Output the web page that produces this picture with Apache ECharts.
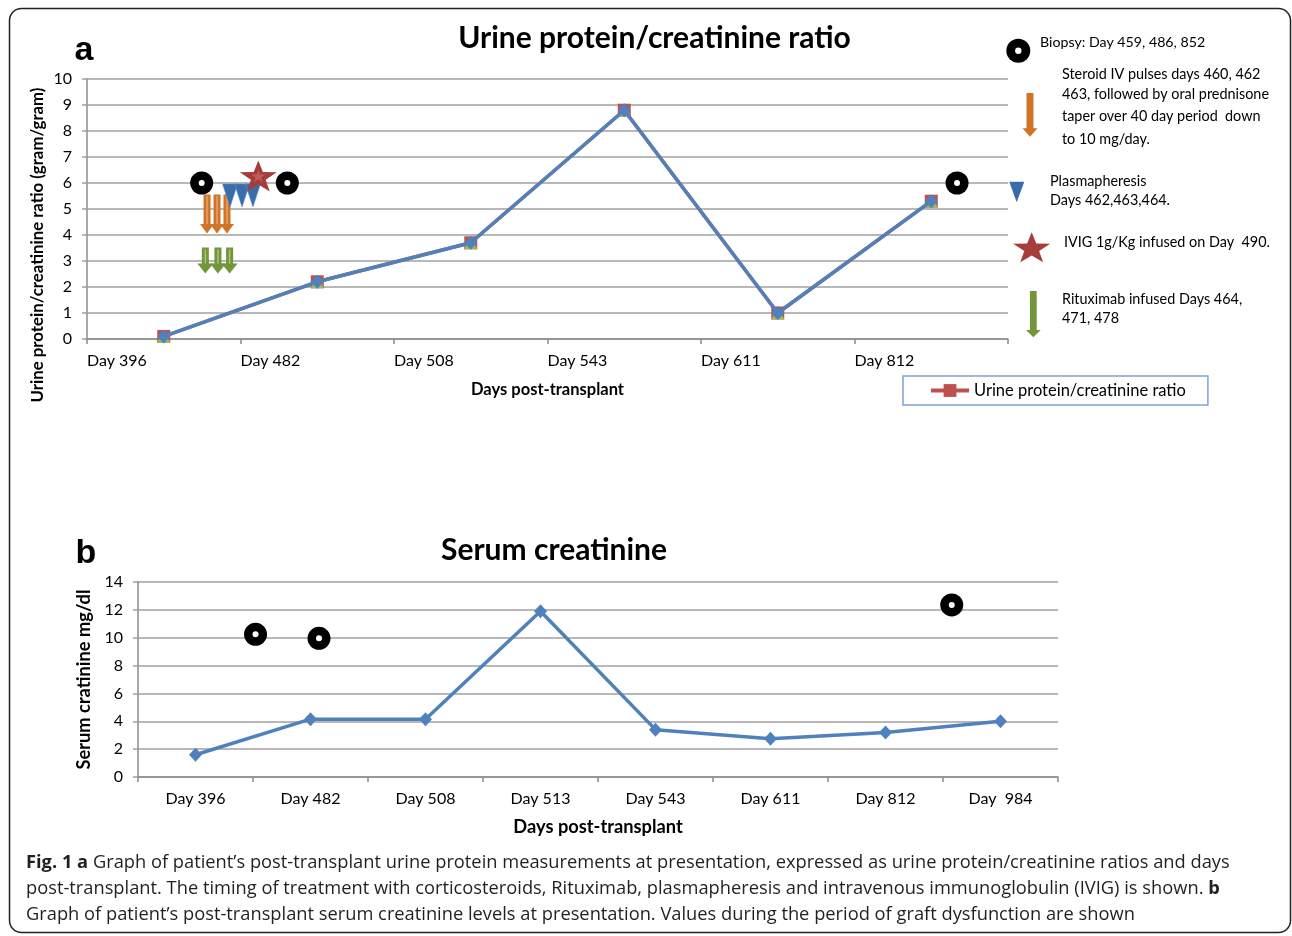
<!DOCTYPE html>
<html><head><meta charset="utf-8">
<script src="https://cdn.jsdelivr.net/npm/echarts@6/dist/echarts.min.js"></script>
<style>html,body{margin:0;padding:0;background:#fff}#c{width:1292px;height:936px}</style>
</head><body><div id="c"></div>
<script>
// ---------- DATA ----------
const daysA = ['Day 396', 'Day 482', 'Day 508', 'Day 543', 'Day 611', 'Day 812'];
const upcr = [0.1, 2.2, 3.7, 8.8, 1.0, 5.3];
const daysB = ['Day 396', 'Day 482', 'Day 508', 'Day 513', 'Day 543', 'Day 611', 'Day 812', 'Day  984'];
const creat = [1.6, 4.15, 4.15, 11.9, 3.4, 2.75, 3.2, 4.0];
// annotation marks: [x in category-band units from axis start, y in axis units]
const biopsyA = [[0.747, 6.0], [1.305, 6.0], [5.668, 6.0]];
const steroidA = [[0.782, 4.81], [0.847, 4.81], [0.912, 4.81]];
const rituxA = [[0.771, 3.02], [0.853, 3.02], [0.929, 3.02]];
const plasmaA = [[0.932, 5.52], [1.010, 5.52], [1.081, 5.52]];
const ivigA = [[1.116, 6.27]];
const biopsyB = [[1.022, 10.24], [1.574, 9.96], [7.076, 12.35]];
const seriesNameA = 'Urine protein/creatinine ratio';

// ---------- STYLE ----------
const FONT = 'Lato';
const BLUE = '#4f81bd', RED = '#c0504d', GREEN = '#9bbb59';
const GRID_C = '#a0a0a0', AXIS_C = '#8c8c8c';
const ARROW = 'path://M25,0 L75,0 L75,76 L100,76 L50,100 L0,76 L25,76 Z';
const ARROW_G = 'path://M28,0 L72,0 L72,62 L100,62 L50,100 L0,62 L28,62 Z';
const TRI = 'path://M0,0 L100,0 L50,100 Z';
const STAR = 'path://M50,0 L61.76,33.82 L97.55,34.55 L69.02,56.18 L79.39,90.45 L50,70 L20.61,90.45 L30.98,56.18 L2.45,34.55 L38.24,33.82 Z';
const LW = 3.5;

const chart = echarts.init(document.getElementById('c'), null, {renderer: 'canvas'});

const axisLbl = {fontFamily: FONT, fontSize: 16, color: '#000'};
const axisName = {fontFamily: FONT, fontWeight: 'bold', color: '#000'};

function starPoly(cx, cy, w, h) {
  const pts = [[50,0],[61.76,33.82],[97.55,34.55],[69.02,56.18],[79.39,90.45],[50,70],[20.61,90.45],[30.98,56.18],[2.45,34.55],[38.24,33.82]];
  return pts.map(p => [cx + (p[0] - 50) / 95.1 * w, cy + (p[1] - 45.2) / 90.45 * h]);
}
function sc(data, symbol, size, color, z, extra) {
  return Object.assign({type: 'scatter', xAxisIndex: 0, yAxisIndex: 0, data: data, symbol: symbol, symbolSize: size,
    itemStyle: {color: color, opacity: 1}, z: z, silent: true}, extra || {});
}

const option = {
  animation: false,
  backgroundColor: '#fff',
  grid: [
    {left: 87, right: 284, top: 79, bottom: 597},
    {left: 138, right: 234, top: 582, bottom: 159}
  ],
  xAxis: [
    { gridIndex: 0, type: 'value', min: 0, max: daysA.length, interval: 1,
      axisLine: {show: true, lineStyle: {color: AXIS_C, width: 1.5}},
      axisTick: {show: true, length: 5, lineStyle: {color: AXIS_C, width: 1.5}},
      splitLine: {show: false},
      axisLabel: Object.assign({margin: 14, align: 'left', formatter: v => daysA[v] || ''}, axisLbl),
      name: 'Days post-transplant', nameLocation: 'middle', nameGap: 42,
      nameTextStyle: Object.assign({fontSize: 16.5}, axisName) },
    { gridIndex: 1, type: 'category', data: daysB, boundaryGap: true,
      axisLine: {show: true, lineStyle: {color: AXIS_C, width: 1.5}},
      axisTick: {show: true, length: 5, lineStyle: {color: AXIS_C, width: 1.5}},
      axisLabel: Object.assign({margin: 14, interval: 0}, axisLbl),
      name: 'Days post-transplant', nameLocation: 'middle', nameGap: 41,
      nameTextStyle: Object.assign({fontSize: 18.3}, axisName) },
    { gridIndex: 1, type: 'value', min: 0, max: daysB.length, show: false }
  ],
  yAxis: [
    { gridIndex: 0, type: 'value', min: 0, max: 10, interval: 1,
      axisLine: {show: true, lineStyle: {color: AXIS_C, width: 1.5}},
      axisTick: {show: true, length: 5, lineStyle: {color: GRID_C, width: 1.5}},
      splitLine: {show: true, lineStyle: {color: GRID_C, width: 1.5}},
      axisLabel: Object.assign({margin: 15}, axisLbl) },
    { gridIndex: 1, type: 'value', min: 0, max: 14, interval: 2,
      axisLine: {show: true, lineStyle: {color: AXIS_C, width: 1.5}},
      axisTick: {show: true, length: 5, lineStyle: {color: GRID_C, width: 1.5}},
      splitLine: {show: true, lineStyle: {color: GRID_C, width: 1.5}},
      axisLabel: Object.assign({margin: 15}, axisLbl),
      name: 'Serum cratinine mg/dl', nameLocation: 'middle', nameGap: 41,
      nameTextStyle: Object.assign({fontSize: 18.3}, axisName) }
  ],
  legend: {
    data: [seriesNameA], left: 903, top: 376, itemWidth: 38, itemHeight: 16,
    padding: [6, 22, 6, 26], borderColor: '#7fa2d4', borderWidth: 1.5,
    lineStyle: {width: 4},
    textStyle: {fontFamily: FONT, fontSize: 16.5, color: '#000'}
  },
  series: [
    // chart a: three overlaid series of the same values
    { name: seriesNameA, type: 'line', xAxisIndex: 0, yAxisIndex: 0,
      data: upcr.map((v, i) => [i + 0.5, v]),
      symbol: 'rect', symbolSize: 13, showAllSymbol: true,
      itemStyle: {color: RED}, lineStyle: {color: RED, width: LW}, z: 2 },
    { name: 'upcr2', type: 'line', xAxisIndex: 0, yAxisIndex: 0,
      data: upcr.map((v, i) => [i + 0.5, v]),
      symbol: 'triangle', symbolSize: 13,
      itemStyle: {color: GREEN}, lineStyle: {width: 0}, z: 3 },
    { name: 'upcr3', type: 'line', xAxisIndex: 0, yAxisIndex: 0,
      data: upcr.map((v, i) => [i + 0.5, v]),
      symbol: 'diamond', symbolSize: [13, 14],
      itemStyle: {color: BLUE}, lineStyle: {color: BLUE, width: LW}, z: 4 },
    // chart a annotations
    sc(steroidA, ARROW, [14, 39], '#cf7429', 5),
    sc(steroidA, 'rect', [1.5, 28], '#eaa468', 5, {symbolOffset: [0, -4]}),
    sc(rituxA, ARROW_G, [16, 26], '#73953b', 5),
    sc(rituxA, 'rect', [1.5, 14], '#a9c66f', 5, {symbolOffset: [0, -4]}),
    sc(plasmaA, TRI, [15, 23], '#3a6cab', 5, {itemStyle: {color: '#3a6cab', opacity: 1, borderColor: '#5f8fca', borderWidth: 0.6}}),
    sc(ivigA, STAR, [37, 31], '#a63d3b', 6),
    sc(ivigA, STAR, [14, 12], '#c45a57', 6),
    sc(biopsyA, 'circle', 23, '#000', 6),
    sc(biopsyA, 'circle', 6, '#fff', 7),
    // chart b
    { name: 'Serum creatinine', type: 'line', xAxisIndex: 1, yAxisIndex: 1, data: creat,
      symbol: 'diamond', symbolSize: [13, 14], showAllSymbol: true,
      itemStyle: {color: BLUE}, lineStyle: {color: BLUE, width: LW}, z: 4 },
    sc(biopsyB, 'circle', 23, '#000', 6, {xAxisIndex: 2, yAxisIndex: 1}),
    sc(biopsyB, 'circle', 6, '#fff', 7, {xAxisIndex: 2, yAxisIndex: 1})
  ],
  graphic: [
    {type: 'rect', shape: {x: 9.5, y: 8.5, width: 1281, height: 924, r: 12}, style: {fill: null, stroke: '#222', lineWidth: 1.5}, z: 100},
    {type: 'text', x: 654.5, y: 38, style: {text: 'Urine protein/creatinine ratio', fontFamily: FONT, fontWeight: 'bold', fontSize: 30, fill: '#000', textAlign: 'center', textVerticalAlign: 'middle'}},
    {type: 'text', x: 554, y: 550, style: {text: 'Serum creatinine', fontFamily: FONT, fontWeight: 'bold', fontSize: 30, fill: '#000', textAlign: 'center', textVerticalAlign: 'middle'}},
    {type: 'text', x: 84, y: 51, style: {text: 'a', fontFamily: 'Liberation Sans', fontWeight: 'bold', fontSize: 34, fill: '#000', textAlign: 'center', textVerticalAlign: 'middle'}},
    {type: 'text', x: 86, y: 554, style: {text: 'b', fontFamily: 'Liberation Sans', fontWeight: 'bold', fontSize: 34, fill: '#000', textAlign: 'center', textVerticalAlign: 'middle'}},
    {type: 'text', x: 38, y: 245, rotation: Math.PI / 2, style: {text: 'Urine protein/creatinine ratio (gram/gram)', fontFamily: FONT, fontWeight: 'bold', fontSize: 16.8, fill: '#000', textAlign: 'center', textVerticalAlign: 'middle'}},
    // right-side key for chart a
    {type: 'circle', shape: {cx: 1018.3, cy: 50.7, r: 12}, style: {fill: '#000'}},
    {type: 'circle', shape: {cx: 1018.3, cy: 50.7, r: 3.2}, style: {fill: '#fff'}},
    {type: 'text', x: 1040, y: 42, style: {text: 'Biopsy: Day 459, 486, 852', fontFamily: FONT, fontSize: 14.2, fill: '#000', textVerticalAlign: 'middle'}},
    {type: 'polygon', shape: {points: [[1026.5,93],[1033.5,93],[1033.5,128.3],[1037.5,128.3],[1030,136.7],[1022.5,128.3],[1026.5,128.3]]}, style: {fill: '#cf7429'}},
    {type: 'text', x: 1062, y: 74, style: {text: 'Steroid IV pulses days 460, 462', fontFamily: FONT, fontSize: 14.4, fill: '#000', textVerticalAlign: 'middle'}},
    {type: 'text', x: 1062, y: 94, style: {text: '463, followed by oral prednisone', fontFamily: FONT, fontSize: 14.4, fill: '#000', textVerticalAlign: 'middle'}},
    {type: 'text', x: 1062, y: 116, style: {text: 'taper over 40 day period  down', fontFamily: FONT, fontSize: 14.4, fill: '#000', textVerticalAlign: 'middle'}},
    {type: 'text', x: 1062, y: 139, style: {text: 'to 10 mg/day.', fontFamily: FONT, fontSize: 14.4, fill: '#000', textVerticalAlign: 'middle'}},
    {type: 'polygon', shape: {points: [[1009.3,181.7],[1024.3,181.7],[1016.7,202.3]]}, style: {fill: '#3a6cab'}},
    {type: 'text', x: 1050, y: 181, style: {text: 'Plasmapheresis', fontFamily: FONT, fontSize: 14.4, fill: '#000', textVerticalAlign: 'middle'}},
    {type: 'text', x: 1050, y: 200, style: {text: 'Days 462,463,464.', fontFamily: FONT, fontSize: 14.4, fill: '#000', textVerticalAlign: 'middle'}},
    {type: 'polygon', shape: {points: starPoly(1031.7, 247.3, 37, 30)}, style: {fill: '#a63d3b'}},
    {type: 'text', x: 1064, y: 242, style: {text: 'IVIG 1g/Kg infused on Day  490.', fontFamily: FONT, fontSize: 14.4, fill: '#000', textVerticalAlign: 'middle'}},
    {type: 'polygon', shape: {points: [[1030,291],[1036.7,291],[1036.7,330],[1040.7,330],[1033.3,337.3],[1026,330],[1030,330]]}, style: {fill: '#73953b'}},
    {type: 'text', x: 1062, y: 299, style: {text: 'Rituximab infused Days 464,', fontFamily: FONT, fontSize: 14.4, fill: '#000', textVerticalAlign: 'middle'}},
    {type: 'text', x: 1062, y: 318, style: {text: '471, 478', fontFamily: FONT, fontSize: 14.4, fill: '#000', textVerticalAlign: 'middle'}},
    // caption
    {type: 'text', x: 26, y: 863, style: {text: '{b|Fig. 1 a} Graph of patient’s post-transplant urine protein measurements at presentation, expressed as urine protein/creatinine ratios and days', fontFamily: 'Open Sans', fontSize: 18.3, fill: '#231f20', textVerticalAlign: 'middle', rich: {b: {fontWeight: 'bold', fontFamily: 'Open Sans', fontSize: 18.3, fill: '#231f20'}}}},
    {type: 'text', x: 26, y: 889, style: {text: 'post-transplant. The timing of treatment with corticosteroids, Rituximab, plasmapheresis and intravenous immunoglobulin (IVIG) is shown. {b|b}', fontFamily: 'Open Sans', fontSize: 18.3, fill: '#231f20', textVerticalAlign: 'middle', rich: {b: {fontWeight: 'bold', fontFamily: 'Open Sans', fontSize: 18.3, fill: '#231f20'}}}},
    {type: 'text', x: 26, y: 915, style: {text: 'Graph of patient’s post-transplant serum creatinine levels at presentation. Values during the period of graft dysfunction are shown', fontFamily: 'Open Sans', fontSize: 18.3, fill: '#231f20', textVerticalAlign: 'middle'}}
  ]
};
chart.setOption(option);
</script></body></html>
